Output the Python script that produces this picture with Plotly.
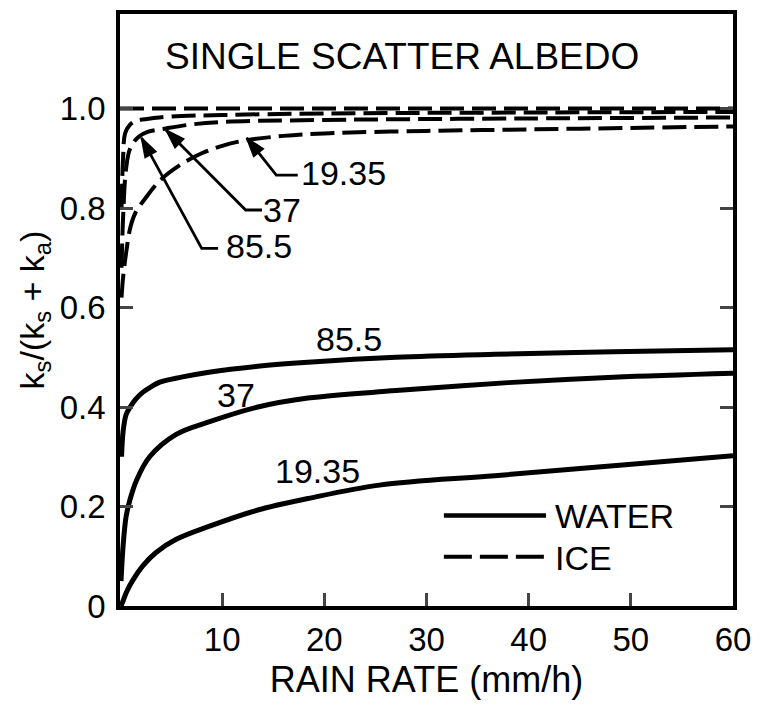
import plotly.graph_objects as go

# Rain rate (mm/h) and single scatter albedo ks/(ks+ka) for liquid water
water_855_rate = [0.15, 0.3, 0.6, 1.0, 1.5, 2.25, 3, 3.9, 6, 8.7, 13.5, 18.4, 27, 36.7, 48.3, 60]
water_855_alb = [0.30, 0.35, 0.385, 0.40, 0.415, 0.43, 0.44, 0.45, 0.46, 0.47, 0.482, 0.49, 0.50, 0.506, 0.511, 0.515]

water_37_rate = [0.1, 0.3, 0.6, 0.97, 1.6, 2.9, 5.5, 8.7, 13.5, 18.4, 27, 38, 48.3, 60]
water_37_alb = [0.05, 0.12, 0.18, 0.213, 0.252, 0.30, 0.345, 0.37, 0.40, 0.418, 0.433, 0.449, 0.46, 0.468]

water_1935_rate = [0.1, 0.3, 0.64, 1.2, 2.25, 3.5, 5.5, 8.7, 13.5, 18.4, 25.4, 36.7, 48.3, 60]
water_1935_alb = [0.0, 0.01, 0.028, 0.05, 0.081, 0.107, 0.134, 0.16, 0.193, 0.216, 0.243, 0.262, 0.282, 0.302]

# Same quantity for ice
ice_855_rate = [0.15, 0.3, 0.5, 1.0, 1.5, 2.2, 3, 5, 10, 20, 40, 60]
ice_855_alb = [0.80, 0.90, 0.95, 0.968, 0.975, 0.978, 0.98, 0.984, 0.987, 0.99, 0.992, 0.993]

ice_37_rate = [0.15, 0.3, 0.6, 1.0, 1.8, 2.7, 4.5, 7, 10, 20, 40, 60]
ice_37_alb = [0.68, 0.78, 0.88, 0.92, 0.943, 0.953, 0.96, 0.968, 0.973, 0.977, 0.98, 0.982]

ice_1935_rate = [0.15, 0.3, 0.6, 1.0, 1.5, 2.5, 4, 6, 8, 10, 12, 16, 20, 30, 40, 50, 60]
ice_1935_alb = [0.62, 0.66, 0.71, 0.76, 0.79, 0.82, 0.857, 0.888, 0.91, 0.925, 0.935, 0.945,
                0.95, 0.955, 0.958, 0.961, 0.964]

# Upper limit of the albedo
albedo_limit_rate = [0, 60]
albedo_limit = [1.0, 1.0]

x_ticks = [10, 20, 30, 40, 50, 60]
y_ticks = [0, 0.2, 0.4, 0.6, 0.8, 1.0]
y_tick_text = ["0", "0.2", "0.4", "0.6", "0.8", "1.0"]

FONT = "Liberation Sans, Arial, Helvetica, sans-serif"
ICE_DASH = "24px,8px"

fig = go.Figure()

for xs, ys in [(water_855_rate, water_855_alb), (water_37_rate, water_37_alb),
               (water_1935_rate, water_1935_alb)]:
    fig.add_trace(go.Scatter(x=xs, y=ys, mode="lines", line=dict(color="black", width=5, shape="spline"),
                             showlegend=False, hoverinfo="skip"))

for xs, ys in [(albedo_limit_rate, albedo_limit), (ice_855_rate, ice_855_alb),
               (ice_37_rate, ice_37_alb), (ice_1935_rate, ice_1935_alb)]:
    fig.add_trace(go.Scatter(x=xs, y=ys, mode="lines",
                             line=dict(color="black", width=4, dash=ICE_DASH, shape="spline"),
                             showlegend=False, hoverinfo="skip"))

# Labels on the water curves
for txt, x, y in [("85.5", 22.4, 0.536), ("37", 11.4, 0.425), ("19.35", 19.3, 0.271)]:
    fig.add_annotation(x=x, y=y, text=txt, showarrow=False,
                       font=dict(family=FONT, size=34, color="black"))

# Leader lines for the ice curve labels: (label, tip, elbow, text-start, text-center)
ice_labels = [
    ("19.35", (12.4, 0.941), (15.3, 0.866), (17.4, 0.866), (21.9, 0.870)),
    ("37", (4.5, 0.957), (12.3, 0.796), (13.9, 0.796), (15.9, 0.797)),
    ("85.5", (2.1, 0.941), (8.0, 0.719), (9.6, 0.719), (13.6, 0.723)),
]
for txt, tip, elbow, start, center in ice_labels:
    # polyline from the text to the curve, ending in an arrowhead aligned with the last segment
    fig.add_trace(go.Scatter(
        x=[start[0], elbow[0], tip[0]], y=[start[1], elbow[1], tip[1]],
        mode="lines+markers", line=dict(color="black", width=2.8),
        marker=dict(symbol="arrow", size=[0, 0, 20], angleref="previous", color="black",
                    opacity=1, line=dict(width=1.5, color="black")),
        opacity=1, showlegend=False, hoverinfo="skip", cliponaxis=False))
    fig.add_annotation(x=center[0], y=center[1], text=txt, showarrow=False,
                       font=dict(family=FONT, size=34, color="black"))

# Title inside the frame
fig.add_annotation(x=0.46, xref="paper", y=1.105, yref="y", text="SINGLE SCATTER ALBEDO",
                   showarrow=False, font=dict(family=FONT, size=37, color="black"))

# Hand-drawn key
fig.add_shape(type="line", x0=31.7, x1=41.7, y0=0.182, y1=0.182, line=dict(color="black", width=4.5))
fig.add_shape(type="line", x0=31.7, x1=41.7, y0=0.099, y1=0.099,
              line=dict(color="black", width=4, dash="28px,8px"))
fig.add_annotation(x=42.4, y=0.180, xanchor="left", text="WATER", showarrow=False,
                   font=dict(family=FONT, size=34, color="black"))
fig.add_annotation(x=42.4, y=0.097, xanchor="left", text="ICE", showarrow=False,
                   font=dict(family=FONT, size=34, color="black"))

fig.update_layout(
    width=761, height=704,
    margin=dict(l=120, r=20, t=10, b=94),
    paper_bgcolor="white", plot_bgcolor="white",
    font=dict(family=FONT, size=33, color="black"),
    xaxis=dict(range=[0, 60], tickvals=x_ticks, ticks="inside", ticklen=13, tickwidth=2.5,
               showline=True, linewidth=3.5, linecolor="black", mirror=True, showgrid=False,
               zeroline=False, tickfont=dict(size=33), ticklabelstandoff=2,
               title=dict(text="RAIN RATE (mm/h)", font=dict(size=36), standoff=10)),
    yaxis=dict(range=[0, 1.19], tickvals=y_ticks, ticktext=y_tick_text, ticks="inside",
               ticklen=13, tickwidth=2.5, showline=True, linewidth=3.5, linecolor="black",
               mirror="ticks", showgrid=False, zeroline=False, tickfont=dict(size=33),
               ticklabelstandoff=4,
               title=dict(text="k<sub>s</sub>/(k<sub>s</sub> + k<sub>a</sub>)",
                          font=dict(size=34), standoff=6)),
)

fig.write_html("out.html")
